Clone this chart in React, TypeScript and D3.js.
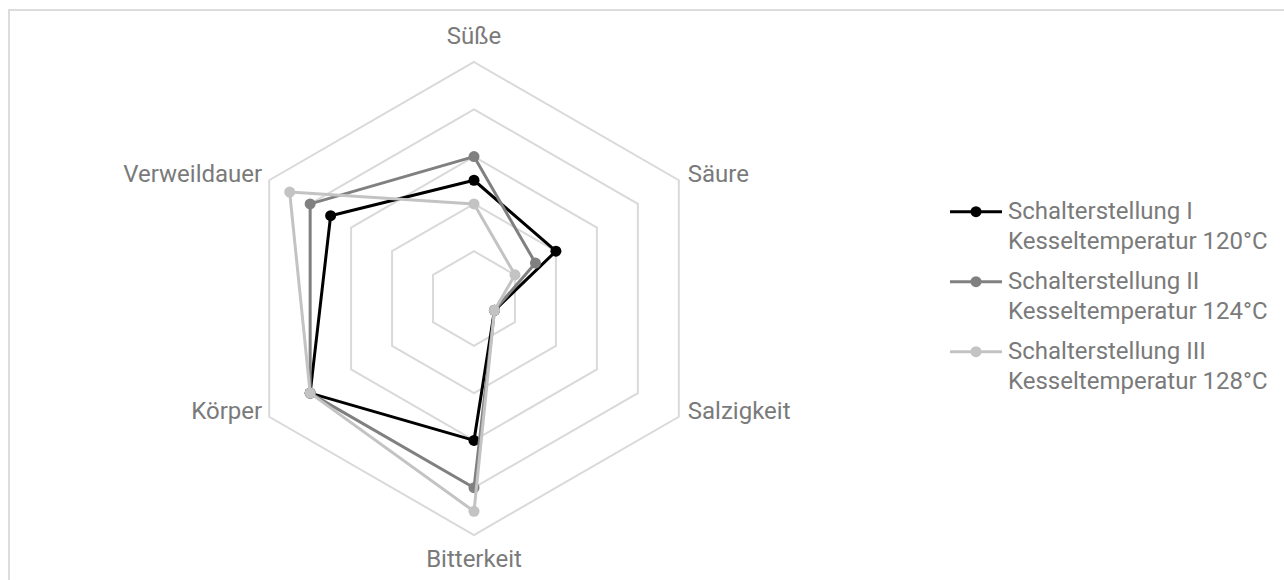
import React from "react";
import * as d3 from "d3";

const axes = ["Süße", "Säure", "Salzigkeit", "Bitterkeit", "Körper", "Verweildauer"];
const seriesNames = [
  ["Schalterstellung I", "Kesseltemperatur 120°C"],
  ["Schalterstellung II", "Kesseltemperatur 124°C"],
  ["Schalterstellung III", "Kesseltemperatur 128°C"],
];
const series1 = [2.5, 2, 0.5, 3, 4, 3.5];
const series2 = [3, 1.5, 0.5, 4, 4, 4];
const series3 = [2, 1, 0.5, 4.5, 4, 4.5];
const seriesColors = ["#000000", "#808080", "#c3c3c3"];
const levels = [1, 2, 3, 4, 5];

const W = 1284;
const H = 580;
const cx = 474;
const cy = 298.5;
const R = 236.5;
const FONT = "Roboto, 'Noto Sans', sans-serif";
const TEXT = "#7a7a7a";
const FS = 24;

export default function App() {
  const r = d3.scaleLinear().domain([0, 5]).range([0, R]);
  const angle = d3.scaleLinear().domain([0, axes.length]).range([0, 2 * Math.PI]);
  const pt = (i: number, v: number): [number, number] => {
    const a = angle(i);
    return [cx + r(v) * Math.sin(a), cy - r(v) * Math.cos(a)];
  };
  const closed = d3.line<[number, number]>().curve(d3.curveLinearClosed);
  const all = [series1, series2, series3];

  const labelProps = (i: number) => {
    const [x, y] = pt(i, 5);
    if (i === 0) return { x, y: y - 18, anchor: "middle" };
    if (i === 3) return { x, y: y + 32, anchor: "middle" };
    if (i === 1 || i === 2) return { x: x + 9, y: y + 2, anchor: "start" };
    return { x: x - 7, y: y + 2, anchor: "end" };
  };

  return (
    <svg
      width={W}
      height={H}
      style={{ position: "absolute", left: 0, top: 0, fontFamily: FONT }}
    >
      <rect x={0} y={0} width={W} height={H} fill="#ffffff" />
      <rect x={9} y={10} width={W + 20} height={H + 20} fill="none" stroke="#dcdcdc" strokeWidth={2} />
      <g>
        {levels.map((lv) => (
          <path
            key={lv}
            d={closed(axes.map((_, i) => pt(i, lv))) || ""}
            fill="none"
            stroke="#d9d9d9"
            strokeWidth={2}
          />
        ))}
      </g>
      <g>
        {axes.map((name, i) => {
          const p = labelProps(i);
          return (
            <text key={name} x={p.x} y={p.y} textAnchor={p.anchor} fontSize={FS} fill={TEXT}>
              {name}
            </text>
          );
        })}
      </g>
      {all.map((vals, si) => (
        <g key={si}>
          <path
            d={closed(vals.map((v, i) => pt(i, v))) || ""}
            fill="none"
            stroke={seriesColors[si]}
            strokeWidth={3}
            strokeLinejoin="round"
          />
          {vals.map((v, i) => {
            const [x, y] = pt(i, v);
            return <circle key={i} cx={x} cy={y} r={5.5} fill={seriesColors[si]} />;
          })}
        </g>
      ))}
      <g>
        {seriesNames.map((lines, si) => {
          const y0 = 211.7 + si * 70;
          return (
            <g key={si}>
              <line x1={950} x2={1002} y1={y0} y2={y0} stroke={seriesColors[si]} strokeWidth={3} />
              <circle cx={976} cy={y0} r={5.5} fill={seriesColors[si]} />
              {lines.map((t, li) => (
                <text key={li} x={1008} y={y0 + 7.5 + li * 30} fontSize={FS} fill={TEXT}>
                  {t}
                </text>
              ))}
            </g>
          );
        })}
      </g>
    </svg>
  );
}
